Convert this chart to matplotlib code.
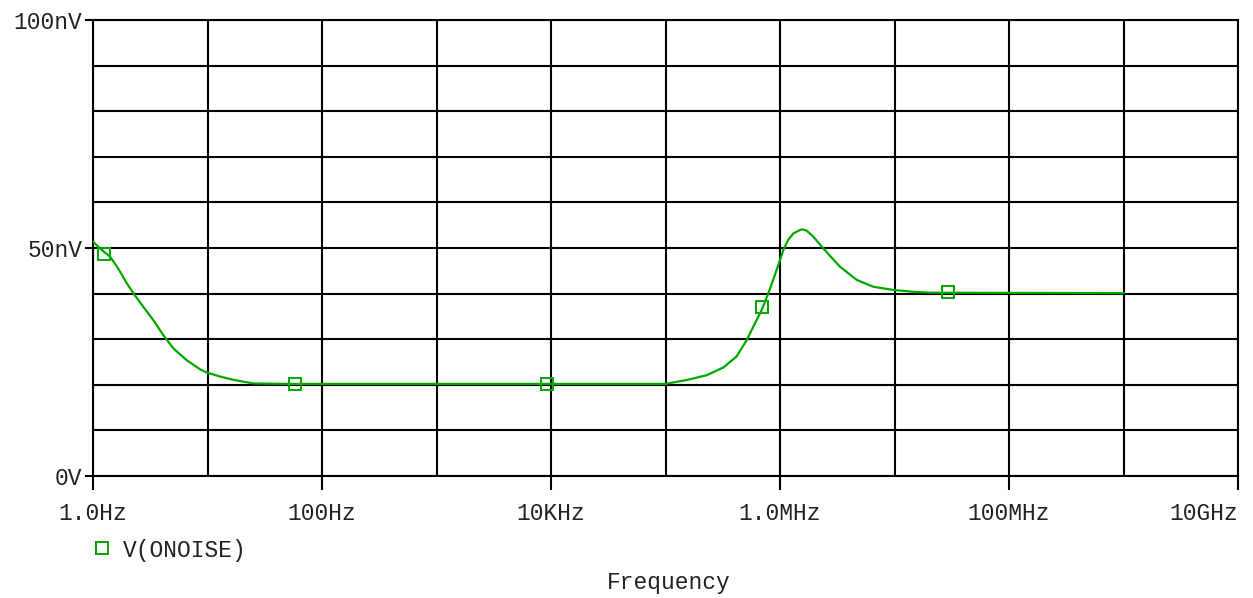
import matplotlib
matplotlib.use("Agg")
import matplotlib.pyplot as plt
from matplotlib.lines import Line2D

# ---- data (frequency in Hz, noise in nV) ----
freq = [1.0, 1.15, 1.41, 1.66, 1.97, 2.25, 2.75, 3.36, 4.11, 5.03, 6.58, 8.6, 9.84,
        12.9, 16.8, 25.1, 50, 1.0e5, 1.53e5, 2.29e5, 3.2e5, 4.17e5, 5.12e5, 6.05e5,
        6.92e5, 7.91e5, 8.71e5, 9.35e5, 1.07e6, 1.18e6, 1.31e6, 1.40e6, 1.55e6,
        1.71e6, 1.95e6, 2.39e6, 3.34e6, 4.68e6, 6.53e6, 9.77e6, 1.45e7, 2.0e7, 1.0e9]
onoise = [51.4, 49.9, 48.1, 45.5, 42.3, 40.1, 37.1, 34.2, 30.9, 28.0, 25.4, 23.4, 22.7,
          21.8, 21.1, 20.3, 20.2, 20.2, 21.05, 22.1, 23.8, 26.2, 29.8, 33.5,
          36.4, 40.1, 43.0, 45.2, 49.6, 51.8, 53.2, 53.6, 54.1,
          53.8, 52.5, 49.9, 45.9, 43.0, 41.5, 40.8, 40.4, 40.2, 40.1]

marker_freq = [1.26, 58.5, 9.29e3, 6.97e5, 2.95e7]
marker_val = [48.7, 20.2, 20.2, 37.1, 40.3]

xtick_vals = [1, 1e2, 1e4, 1e6, 1e8, 1e10]
xtick_labels = ["1.0Hz", "100Hz", "10KHz", "1.0MHz", "100MHz", "10GHz"]
xminor_vals = [1e1, 1e3, 1e5, 1e7, 1e9]
ytick_vals = [0, 50, 100]
ytick_labels = ["0V", "50nV", "100nV"]
yminor_vals = [10, 20, 30, 40, 60, 70, 80, 90]

series_label = "V(ONOISE)"
xlabel = "Frequency"

GREEN = "#00a800"
FONT = "Liberation Mono"
FS = 16.5

W, H = 1253, 598
fig = plt.figure(figsize=(W / 100, H / 100), dpi=100)
ax = fig.add_axes([93 / W, 1 - 476 / H, (1238 - 93) / W, (476 - 20) / H])

ax.plot(freq, onoise, color=GREEN, lw=1.6, zorder=3)
ax.plot(marker_freq, marker_val, ls="none", marker="s", ms=8.5, mfc="none",
        mec=GREEN, mew=1.4, zorder=4)

ax.set_xscale("log")
ax.set_xlim(1, 1e10)
ax.set_ylim(0, 100)

ax.set_xticks(xtick_vals)
ax.set_xticklabels(xtick_labels, fontfamily=FONT, fontsize=FS, color="#222222")
ax.get_xticklabels()[-1].set_horizontalalignment("right")
ax.set_xticks(xminor_vals, minor=True)
ax.set_xticklabels([], minor=True)
ax.set_yticks(ytick_vals)
ax.set_yticklabels(ytick_labels, fontfamily=FONT, fontsize=FS, color="#222222")
ax.set_yticks(yminor_vals, minor=True)

ax.tick_params(axis="x", which="major", direction="out", length=10, width=1.5,
               pad=9, color="black")
ax.tick_params(axis="y", which="major", direction="out", length=6, width=1.5,
               pad=1.5, color="black")
ax.tick_params(which="minor", length=0)

ax.grid(True, which="both", color="black", lw=1.5, zorder=1)
ax.set_axisbelow(True)
for s in ax.spines.values():
    s.set_linewidth(1.5)
    s.set_color("black")

fig.text(669 / W, 1 - 583 / H, xlabel, ha="center", va="center",
         fontfamily=FONT, fontsize=FS, color="#222222")

handle = Line2D([], [], ls="none", marker="s", ms=8, mfc="none", mec=GREEN, mew=1.4)
leg = fig.legend([handle], [series_label], loc="center left",
                 bbox_to_anchor=(93 / W, 1 - 550 / H), frameon=False,
                 prop={"family": FONT, "size": FS}, handlelength=0.8,
                 handletextpad=0.5, borderpad=0, borderaxespad=0)
for t in leg.get_texts():
    t.set_color("#222222")

fig.savefig("out.png", dpi=100)
